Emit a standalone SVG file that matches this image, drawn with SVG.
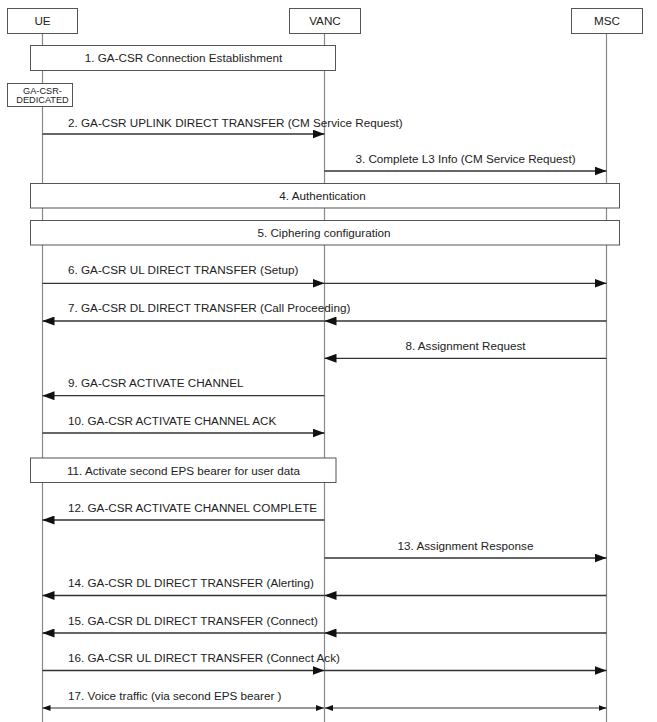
<svg xmlns="http://www.w3.org/2000/svg" width="657" height="722" viewBox="0 0 657 722">
<defs>
<style>
text{font-family:"Liberation Sans",Arial,sans-serif;font-size:11.7px;fill:#222}
.c{text-anchor:middle}
.small{font-size:9.2px}
.box{fill:#fff;stroke:#555;stroke-width:1}
.life{stroke:#888;stroke-width:1.2;fill:none}
.msg{stroke:#333;stroke-width:1.3;fill:none;marker-end:url(#ah)}
.bi{stroke:#333;stroke-width:1.2;fill:none;marker-end:url(#sh);marker-start:url(#sh)}
</style>
<marker id="ah" markerUnits="userSpaceOnUse" markerWidth="12" markerHeight="9" refX="12" refY="4.5" orient="auto">
<path d="M0,0 L12,4.5 L0,9 z" fill="#111"/>
</marker>
<marker id="sh" markerUnits="userSpaceOnUse" markerWidth="8" markerHeight="6" refX="8" refY="3" orient="auto-start-reverse">
<path d="M0,0 L8,3 L0,6 z" fill="#111"/>
</marker>
</defs>
<rect width="657" height="722" fill="#fff"/>

<g id="lifelines">
<line class="life" x1="42.5" y1="33" x2="42.5" y2="722"/>
<line class="life" x1="324.5" y1="33" x2="324.5" y2="722"/>
<line class="life" x1="606.5" y1="33" x2="606.5" y2="722"/>
</g>

<g id="UE"><rect class="box" x="7.5" y="8.5" width="70" height="25"/><text class="c" x="42.5" y="24.9">UE</text></g>
<g id="VANC"><rect class="box" x="289.5" y="8.5" width="71" height="25"/><text class="c" x="325" y="24.9">VANC</text></g>
<g id="MSC"><rect class="box" x="571.5" y="8.5" width="71" height="25"/><text class="c" x="607" y="24.9">MSC</text></g>

<g id="step1"><rect class="box" x="30.5" y="45.5" width="305" height="25"/><text class="c" x="183.5" y="62.4">1. GA-CSR Connection Establishment</text></g>
<g id="state-dedicated"><rect class="box" x="7.5" y="83.5" width="65" height="23"/><text class="c small" x="42.5" y="94">GA-CSR-</text><text class="c small" x="42.5" y="103.3">DEDICATED</text></g>
<g id="step4"><rect class="box" x="30.5" y="183.5" width="589" height="24.5"/><text class="c" x="322.5" y="200">4. Authentication</text></g>
<g id="step5"><rect class="box" x="30.5" y="220.5" width="589" height="24.5"/><text class="c" x="324" y="237">5. Ciphering configuration</text></g>
<g id="step11"><rect class="box" x="30.5" y="458" width="305.5" height="24.5"/><text class="c" x="183.5" y="474.5">11. Activate second EPS bearer for user data</text></g>

<g id="connectors">
<line class="msg" x1="42.5" y1="134" x2="324.5" y2="134"/>
<line class="msg" x1="324.5" y1="171" x2="606.5" y2="171"/>
<line class="msg" x1="42.5" y1="283.3" x2="324.5" y2="283.3"/>
<line class="msg" x1="324.5" y1="283.3" x2="606.5" y2="283.3"/>
<line class="msg" x1="606.5" y1="321" x2="324.5" y2="321"/>
<line class="msg" x1="324.5" y1="321" x2="42.5" y2="321"/>
<line class="msg" x1="606.5" y1="358.3" x2="324.5" y2="358.3"/>
<line class="msg" x1="324.5" y1="395.7" x2="42.5" y2="395.7"/>
<line class="msg" x1="42.5" y1="433" x2="324.5" y2="433"/>
<line class="msg" x1="324.5" y1="520" x2="42.5" y2="520"/>
<line class="msg" x1="324.5" y1="558" x2="606.5" y2="558"/>
<line class="msg" x1="606.5" y1="595.5" x2="324.5" y2="595.5"/>
<line class="msg" x1="324.5" y1="595.5" x2="42.5" y2="595.5"/>
<line class="msg" x1="606.5" y1="633" x2="324.5" y2="633"/>
<line class="msg" x1="324.5" y1="633" x2="42.5" y2="633"/>
<line class="msg" x1="42.5" y1="670.5" x2="324.5" y2="670.5"/>
<line class="msg" x1="324.5" y1="670.5" x2="606.5" y2="670.5"/>
<line class="bi" x1="42.5" y1="708" x2="324" y2="708"/>
<line class="bi" x1="325" y1="708" x2="606.5" y2="708"/>
</g>

<g id="labels">
<text x="68" y="126.5">2. GA-CSR UPLINK DIRECT TRANSFER (CM Service Request)</text>
<text class="c" x="465.5" y="162.5">3. Complete L3 Info (CM Service Request)</text>
<text x="68" y="274">6. GA-CSR UL DIRECT TRANSFER (Setup)</text>
<text x="68" y="312">7. GA-CSR DL DIRECT TRANSFER (Call Proceeding)</text>
<text class="c" x="465.5" y="349.5">8. Assignment Request</text>
<text x="68" y="387">9. GA-CSR ACTIVATE CHANNEL</text>
<text x="68" y="424.5">10. GA-CSR ACTIVATE CHANNEL ACK</text>
<text x="68" y="511.5">12. GA-CSR ACTIVATE CHANNEL COMPLETE</text>
<text class="c" x="465.5" y="549.5">13. Assignment Response</text>
<text x="68" y="587">14. GA-CSR DL DIRECT TRANSFER (Alerting)</text>
<text x="68" y="624.5">15. GA-CSR DL DIRECT TRANSFER (Connect)</text>
<text x="68" y="662">16. GA-CSR UL DIRECT TRANSFER (Connect Ack)</text>
<text x="68" y="699.5">17. Voice traffic (via second EPS bearer )</text>
</g>
</svg>
